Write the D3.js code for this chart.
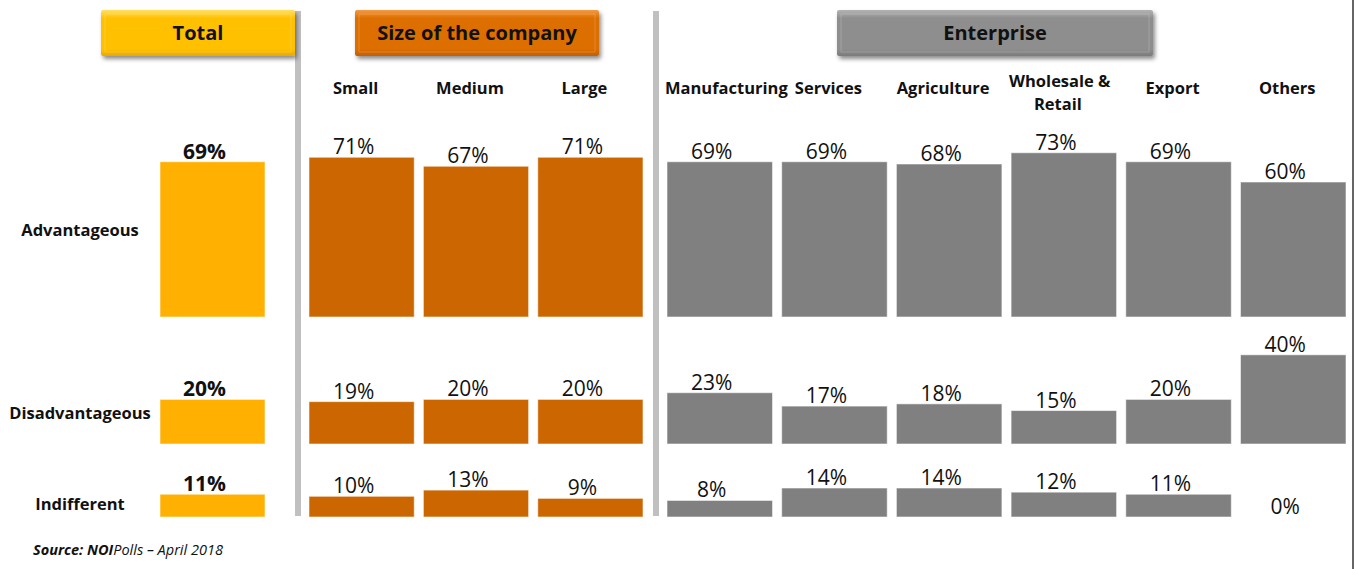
<!DOCTYPE html>
<html>
<head>
<meta charset="utf-8">
<script src="https://cdn.jsdelivr.net/npm/d3@7"></script>
<style>
  html, body { margin: 0; padding: 0; background: #fff; }
  svg { display: block; font-family: "Open Sans", "DejaVu Sans", sans-serif; }
</style>
</head>
<body>
<svg id="chart" width="1359" height="569"></svg>
<script>
// ---- data ----
const groups = ["Total", "Size of the company", "Enterprise"];
const categories = ["Total", "Small", "Medium", "Large", "Manufacturing", "Services",
                    "Agriculture", "Wholesale & Retail", "Export", "Others"];
const categoryLabels = [[""], ["Small"], ["Medium"], ["Large"], ["Manufacturing"], ["Services"],
                        ["Agriculture"], ["Wholesale &", "Retail"], ["Export"], ["Others"]];
const categoryGroup = [0, 1, 1, 1, 2, 2, 2, 2, 2, 2];
const responses = ["Advantageous", "Disadvantageous", "Indifferent"];
const advantageous    = [69, 71, 67, 71, 69, 69, 68, 73, 69, 60];
const disadvantageous = [20, 19, 20, 20, 23, 17, 18, 15, 20, 40];
const indifferent     = [11, 10, 13, 9, 8, 14, 14, 12, 11, 0];
const seriesValues = [advantageous, disadvantageous, indifferent];
const sourceNote = ["Source: NOI", "Polls \u2013 April 2018"];

// ---- layout ----
const svg = d3.select("#chart");
const groupColors = ["#FFB000", "#CC6600", "#808080"];
const headerStops = [
  ["#FFE066", "#FFC000", "#E8A900"],
  ["#F39A45", "#DD6E00", "#C45F00"],
  ["#B4B4B4", "#8E8E8E", "#7B7B7B"]
];
const groupExtents = [[160, 265], [309, 643], [667, 1346]];
const headerExtents = [[101, 295], [355, 599], [837, 1153]];

// one band scale per group
const xScales = groups.map((g, gi) => {
  const members = categories.filter((c, i) => categoryGroup[i] === gi);
  return d3.scaleBand().domain(members).range(groupExtents[gi])
    .paddingInner(members.length > 1 ? 0.08 : 0).paddingOuter(0);
});
const xOf = i => xScales[categoryGroup[i]](categories[i]);
const bwOf = i => xScales[categoryGroup[i]].bandwidth();

// one vertical scale per response row (baseline, height of 100%)
const rowBase = [317, 444, 517];
const rowFull = [225, 223, 207];
const yScales = responses.map((r, ri) =>
  d3.scaleLinear().domain([0, 100]).range([rowBase[ri], rowBase[ri] - rowFull[ri]]));
const rowLabelY = [230, 413, 504];

// ---- defs: header gradients & shadow ----
const defs = svg.append("defs");
headerStops.forEach((stops, gi) => {
  const lg = defs.append("linearGradient").attr("id", "hdr" + gi)
    .attr("x1", 0).attr("y1", 0).attr("x2", 0).attr("y2", 1);
  lg.append("stop").attr("offset", "0%").attr("stop-color", stops[0]);
  lg.append("stop").attr("offset", "18%").attr("stop-color", stops[1]);
  lg.append("stop").attr("offset", "85%").attr("stop-color", stops[1]);
  lg.append("stop").attr("offset", "100%").attr("stop-color", stops[2]);
});
const f = defs.append("filter").attr("id", "shadow")
  .attr("x", "-10%").attr("y", "-20%").attr("width", "125%").attr("height", "160%");
f.append("feDropShadow").attr("dx", 2).attr("dy", 3).attr("stdDeviation", 2)
  .attr("flood-color", "#000").attr("flood-opacity", 0.45);

// ---- separators ----
svg.selectAll("rect.sep").data([295, 653]).join("rect")
  .attr("class", "sep").attr("x", d => d).attr("y", 11)
  .attr("width", 6).attr("height", 505).attr("fill", "#C0C0C0");

// right frame line
svg.append("line").attr("x1", 1353).attr("x2", 1353).attr("y1", 0).attr("y2", 569)
  .attr("stroke", "#000").attr("stroke-width", 1.2);

// ---- group headers ----
const hdr = svg.selectAll("g.hdr").data(groups).join("g").attr("class", "hdr");
hdr.append("rect")
  .attr("x", (d, i) => headerExtents[i][0]).attr("y", 10)
  .attr("width", (d, i) => headerExtents[i][1] - headerExtents[i][0]).attr("height", 46)
  .attr("rx", 2)
  .attr("fill", (d, i) => `url(#hdr${i})`)
  .attr("filter", "url(#shadow)");
hdr.append("rect")
  .attr("x", (d, i) => headerExtents[i][0] + 4).attr("y", 14)
  .attr("width", (d, i) => headerExtents[i][1] - headerExtents[i][0] - 8).attr("height", 38)
  .attr("fill", "none").attr("stroke", "#ffffff").attr("stroke-opacity", 0.18).attr("stroke-width", 1);
hdr.append("text")
  .attr("x", (d, i) => (headerExtents[i][0] + headerExtents[i][1]) / 2)
  .attr("y", 40)
  .attr("text-anchor", "middle")
  .attr("font-weight", 700).attr("font-size", 20).attr("fill", "#111")
  .text(d => d);

// ---- category labels (centred over the bar, kept clear of the separators) ----
svg.selectAll("text.cat").data(categories).join("text")
  .attr("class", "cat")
  .attr("text-anchor", "middle")
  .attr("font-weight", 700).attr("font-size", 16.5).attr("fill", "#111")
  .each(function (d, i) {
    const lines = categoryLabels[i];
    const t = d3.select(this);
    lines.forEach((ln, k) => {
      const ts = t.append("tspan")
        .attr("y", lines.length === 1 ? 94 : 87 + k * 23)
        .text(ln);
      const w = ts.node().getComputedTextLength();
      const cx = Math.max(xOf(i) + bwOf(i) / 2 - 6, xOf(i) - 2 + w / 2);
      ts.attr("x", cx);
    });
  });

// ---- row labels ----
svg.selectAll("text.row").data(responses).join("text")
  .attr("class", "row")
  .attr("x", 80).attr("y", (d, i) => rowLabelY[i]).attr("dy", "0.35em")
  .attr("text-anchor", "middle")
  .attr("font-weight", 700).attr("font-size", 16.5).attr("fill", "#111")
  .text(d => d);

// ---- bars & value labels ----
responses.forEach((r, ri) => {
  const y = yScales[ri];
  const rows = seriesValues[ri].map((v, i) => ({ v, i }));
  const g = svg.append("g").attr("class", "row-" + ri);
  g.selectAll("rect").data(rows.filter(d => d.v > 0)).join("rect")
    .attr("x", d => xOf(d.i)).attr("width", d => bwOf(d.i))
    .attr("y", d => y(d.v)).attr("height", d => y(0) - y(d.v))
    .attr("fill", d => groupColors[categoryGroup[d.i]])
    .attr("stroke", "#ffffff").attr("stroke-opacity", 0.55).attr("stroke-width", 1);
  g.selectAll("text").data(rows).join("text")
    .attr("x", d => xOf(d.i) + bwOf(d.i) / 2 - 8)
    .attr("y", d => y(d.v) - 3)
    .attr("text-anchor", "middle")
    .attr("font-size", 21)
    .attr("font-weight", d => categoryGroup[d.i] === 0 ? 700 : 400)
    .attr("fill", "#111")
    .text(d => d.v + "%");
});

// ---- source note ----
const src = svg.append("text").attr("x", 33).attr("y", 555)
  .attr("font-size", 14.5).attr("font-style", "italic").attr("fill", "#111");
src.append("tspan").attr("font-weight", 700).text(sourceNote[0]);
src.append("tspan").text(sourceNote[1]);
</script>
</body>
</html>
